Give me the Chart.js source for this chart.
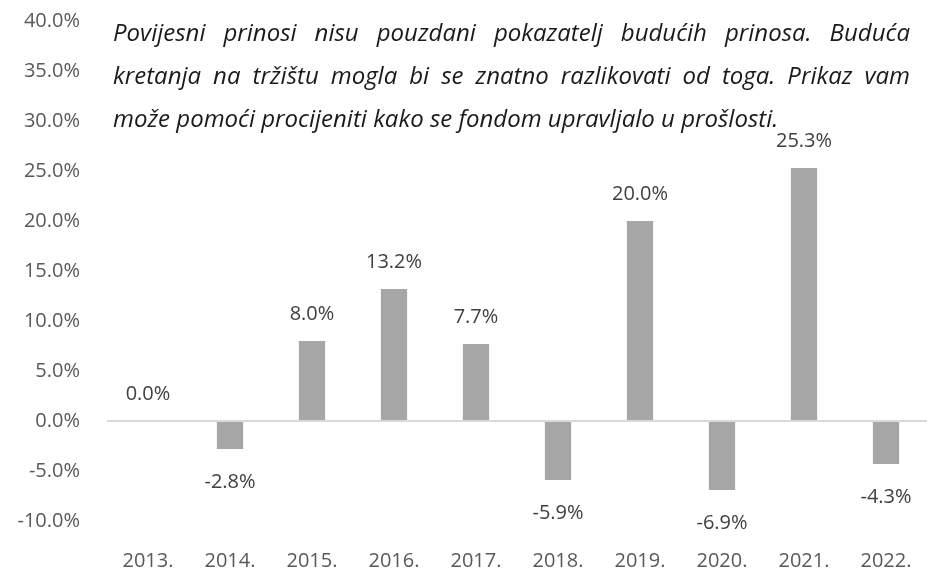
<!DOCTYPE html>
<html lang="hr">
<head>
    <meta charset="UTF-8">
    <title>Povijesni prinosi</title>
    <style>
        body {
            margin: 0;
            background: #ffffff;
            font-family: "Open Sans", Arial, sans-serif;
        }

        .wrap {
            position: relative;
            width: 927px;
            height: 569px;
            overflow: hidden;
        }

        /* disclaimer text sitting over the top of the plot */
        .note {
            position: absolute;
            left: 113px;
            top: 10px;
            width: 797px;
            font-style: italic;
            font-size: 24px;
            line-height: 43px;
            color: #1a1a1a;
        }

        .note .full {
            text-align: justify;
            text-align-last: justify;
        }
    </style>
</head>
<body>
    <div class="wrap">
        <canvas id="chart" width="927" height="569"></canvas>
        <div class="note">
            <div class="full">Povijesni prinosi nisu pouzdani pokazatelj budućih prinosa. Buduća</div>
            <div class="full">kretanja na tržištu mogla bi se znatno razlikovati od toga. Prikaz vam</div>
            <div>može pomoći procijeniti kako se fondom upravljalo u prošlosti.</div>
        </div>
    </div>

    <script src="https://cdn.jsdelivr.net/npm/chart.js"></script>
    <script>
        var years = ['2013.', '2014.', '2015.', '2016.', '2017.', '2018.', '2019.', '2020.', '2021.', '2022.'];
        var returns = [0.0, -2.8, 8.0, 13.2, 7.7, -5.9, 20.0, -6.9, 25.3, -4.3];
        var yMin = -10;
        var yMax = 40;
        var yStep = 5;

        function pct(v) {
            return v.toFixed(1) + '%';
        }

        // value labels above / below each bar
        var valueLabels = {
            id: 'valueLabels',
            afterDatasetsDraw: function (chart) {
                var ctx = chart.ctx;
                var meta = chart.getDatasetMeta(0);
                ctx.save();
                ctx.font = '20px "Open Sans", Arial, sans-serif';
                ctx.fillStyle = '#404040';
                ctx.textAlign = 'center';
                ctx.textBaseline = 'middle';
                meta.data.forEach(function (bar, i) {
                    var v = returns[i];
                    var y = v >= 0 ? bar.y - 27 : bar.y + 33;
                    ctx.fillText(pct(v), bar.x, y);
                });
                ctx.restore();
            }
        };

        new Chart(document.getElementById('chart'), {
            type: 'bar',
            data: {
                labels: years,
                datasets: [{
                    data: returns,
                    backgroundColor: '#a6a6a6',
                    borderWidth: 0,
                    barPercentage: 0.32,
                    categoryPercentage: 1
                }]
            },
            options: {
                responsive: false,
                animation: false,
                layout: {
                    padding: { top: 21, right: -4, bottom: 0, left: 0 }
                },
                plugins: {
                    legend: { display: false },
                    tooltip: { enabled: false }
                },
                scales: {
                    x: {
                        afterFit: function (s) {
                            s.height = 48;
                            s.paddingLeft = 0;
                            s.paddingRight = 0;
                        },
                        grid: { display: false, drawTicks: false },
                        border: { display: false },
                        ticks: {
                            color: '#595959',
                            padding: 30,
                            font: { family: '"Open Sans", Arial, sans-serif', size: 20, lineHeight: 1 }
                        }
                    },
                    y: {
                        min: yMin,
                        max: yMax,
                        afterFit: function (s) {
                            s.width = 107;
                            s.paddingTop = 0;
                            s.paddingBottom = 0;
                        },
                        border: { display: false },
                        grid: {
                            drawTicks: false,
                            lineWidth: 2,
                            color: function (c) {
                                return c.tick && c.tick.value === 0 ? '#d9d9d9' : 'rgba(0,0,0,0)';
                            }
                        },
                        ticks: {
                            stepSize: yStep,
                            padding: 27,
                            color: '#595959',
                            font: { family: '"Open Sans", Arial, sans-serif', size: 20 },
                            callback: function (v) { return pct(v); }
                        }
                    }
                }
            },
            plugins: [valueLabels]
        });
    </script>
</body>
</html>
